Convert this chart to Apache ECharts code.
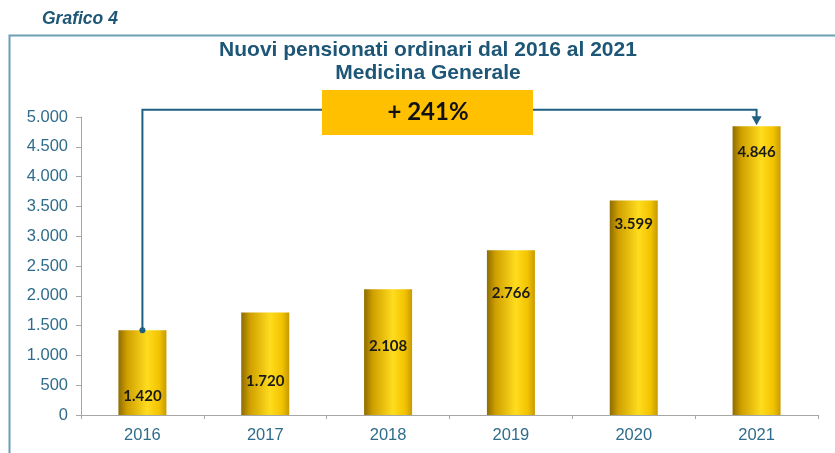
<!DOCTYPE html>
<html>
<head>
<meta charset="utf-8">
<script src="https://cdn.jsdelivr.net/npm/echarts@6/dist/echarts.min.js"></script>
<style>
  html, body { margin: 0; padding: 0; background: #fff; }
  #chart { width: 835px; height: 453px; }
</style>
</head>
<body>
<div id="chart"></div>
<script>
// dati del grafico
const years = ['2016', '2017', '2018', '2019', '2020', '2021']
const pensionati = [1420, 1720, 2108, 2766, 3599, 4846]
const yTicks = [0, 500, 1000, 1500, 2000, 2500, 3000, 3500, 4000, 4500, 5000]
const crescita = '+ 241%'

// distanza delle etichette dalla cima della barra (solo stile)
const labelGap = [58, 61, 49, 36, 16, 18]

const blu = '#1d5676'
const fmt = v => String(v).replace(/\B(?=(\d{3})+(?!\d))/g, '.')

const myChart = echarts.init(document.getElementById('chart'))

// colore delle barre, effetto cilindro
const barColor = new echarts.graphic.LinearGradient(0, 0, 1, 0, [
  { offset: 0, color: '#8e6c00' },
  { offset: 0.18, color: '#cf9f00' },
  { offset: 0.6, color: '#ffdc1e' },
  { offset: 0.85, color: '#f2c300' },
  { offset: 1, color: '#c89a00' }
])

const option = {
  animation: false,
  grid: { left: 81, right: 17, top: 117, bottom: 38 },
  xAxis: {
    type: 'category',
    data: years,
    axisLine: { lineStyle: { color: '#a6a6a6', width: 1 } },
    axisTick: { show: true, length: 4, lineStyle: { color: '#a6a6a6' } },
    axisLabel: { color: '#2f6c8b', fontSize: 16.5, fontFamily: 'Liberation Sans', margin: 12 }
  },
  yAxis: {
    type: 'value',
    min: yTicks[0],
    max: yTicks[yTicks.length - 1],
    interval: yTicks[1] - yTicks[0],
    axisLine: { show: true, lineStyle: { color: '#a6a6a6', width: 1 } },
    axisTick: { show: true, length: 5, lineStyle: { color: '#a6a6a6' } },
    splitLine: { show: false },
    axisLabel: {
      color: '#2f6c8b', fontSize: 16.5, fontFamily: 'Liberation Sans', margin: 13,
      formatter: fmt
    }
  },
  series: [
    {
      type: 'bar',
      barWidth: 48,
      itemStyle: { color: barColor },
      data: pensionati.map((v, i) => ({
        value: v,
        label: {
          show: true,
          position: 'insideTop',
          distance: labelGap[i],
          formatter: p => fmt(p.value),
          color: '#1a1a1a',
          fontSize: 15,
          fontWeight: 'bold',
          fontFamily: 'Lato'
        }
      }))
    }
  ]
}
myChart.setOption(option)

// freccia di collegamento 2016 -> 2021, calcolata dalle scale
const topValue = 5120
const p0 = myChart.convertToPixel({ seriesIndex: 0 }, [years[0], pensionati[0]])
const p1 = myChart.convertToPixel({ seriesIndex: 0 }, [years[0], topValue])
const p2 = myChart.convertToPixel({ seriesIndex: 0 }, [years[5], topValue])
const p3 = myChart.convertToPixel({ seriesIndex: 0 }, [years[5], pensionati[5]])

myChart.setOption({
  graphic: [
    // cornice
    {
      type: 'rect', left: 7, top: 33, z: 1,
      shape: { x: 0, y: 0, width: 900, height: 500 },
      style: { fill: 'none', stroke: '#6d9fb5', lineWidth: 2 }
    },
    {
      type: 'text', left: 42, top: 10,
      style: { text: 'Grafico 4', fill: blu, font: 'italic bold 17.5px "Liberation Sans"' }
    },
    {
      type: 'text', x: 428, y: 39,
      style: {
        text: 'Nuovi pensionati ordinari dal 2016 al 2021\nMedicina Generale',
        fill: blu, font: 'bold 21px "Liberation Sans"', align: 'center', lineHeight: 23
      }
    },
    {
      type: 'polyline', z: 5,
      shape: { points: [[p0[0], p0[1]], p1, p2, [p3[0], p3[1] - 8]] },
      style: { stroke: '#1f5f7f', lineWidth: 2, fill: 'none' }
    },
    {
      type: 'circle', z: 6,
      shape: { cx: p0[0], cy: p0[1], r: 3 },
      style: { fill: '#1f5f7f' }
    },
    {
      type: 'polygon', z: 6,
      shape: { points: [[p3[0] - 5, p3[1] - 10], [p3[0] + 5, p3[1] - 10], [p3[0], p3[1] - 1]] },
      style: { fill: '#1f5f7f' }
    },
    {
      type: 'rect', z: 10,
      shape: { x: 322, y: 90, width: 211, height: 45 },
      style: { fill: '#ffc000' }
    },
    {
      type: 'text', z: 11, x: 428, y: 112,
      style: {
        text: crescita, fill: '#111', font: 'bold 24px Lato',
        align: 'center', verticalAlign: 'middle'
      }
    }
  ]
})

window.addEventListener('resize', function () {
  myChart.resize()
})
</script>
</body>
</html>
